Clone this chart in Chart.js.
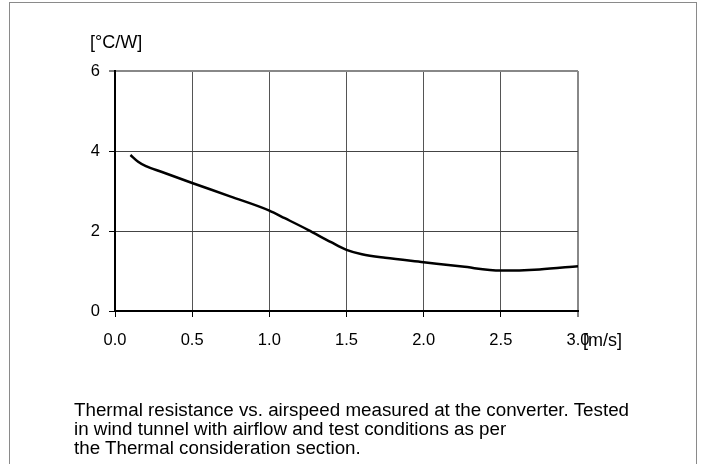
<!DOCTYPE html>
<html>
<head>
<meta charset="utf-8">
<script src="https://cdn.jsdelivr.net/npm/chart.js@4.4.1/dist/chart.umd.min.js"></script>
<style>
  html, body { margin: 0; padding: 0; background: #fff; }
  #wrap { position: relative; width: 706px; height: 464px; overflow: hidden; }
  #frame { position: absolute; left: 9px; top: 2px; width: 688px; height: 480px; border: 1px solid #8a8a8a; box-sizing: border-box; }
  canvas { position: absolute; left: 0; top: 0; }
  .cap { position: absolute; left: 74px; font-family: "Liberation Sans", Arial, sans-serif; font-size: 18.8px; line-height: 20px; color: #000; white-space: nowrap; }
</style>
</head>
<body>
<div id="wrap">
  <div id="frame"></div>
  <canvas id="c" width="706" height="464"></canvas>
  <div class="cap" style="top:400px">Thermal resistance vs. airspeed measured at the converter. Tested</div>
  <div class="cap" style="top:419px">in wind tunnel with airflow and test conditions as per</div>
  <div class="cap" style="top:438px">the Thermal consideration section.</div>
</div>
<script>
// Data
const airspeed = [0.1, 0.15, 0.2, 0.3, 0.5, 0.75, 1.0, 1.1, 1.25, 1.4, 1.5, 1.6, 1.75, 2.0, 2.25, 2.5, 2.75, 3.0];
const thermalResistance = [3.9, 3.73, 3.62, 3.48, 3.2, 2.86, 2.51, 2.32, 2.03, 1.72, 1.53, 1.42, 1.33, 1.22, 1.11, 1.01, 1.04, 1.12];
const xTicks = [0, 0.5, 1.0, 1.5, 2.0, 2.5, 3.0];
const yTicks = [0, 2, 4, 6];
const yUnit = '[°C/W]';
const xUnit = '[m/s]';

const FONT = { family: '"Liberation Sans", Arial, sans-serif', size: 16.5 };

const unitLabels = {
  id: 'unitLabels',
  afterDraw(chart) {
    const ctx = chart.ctx;
    ctx.save();
    ctx.fillStyle = '#000';
    ctx.font = '18px "Liberation Sans", Arial, sans-serif';
    ctx.textBaseline = 'alphabetic';
    ctx.textAlign = 'left';
    ctx.fillText(yUnit, 90, 48);
    ctx.fillText(xUnit, chart.scales.x.getPixelForValue(3.0) + 5, 346);
    ctx.restore();
  }
};

new Chart(document.getElementById('c'), {
  type: 'scatter',
  data: {
    datasets: [{
      data: airspeed.map((x, i) => ({ x, y: thermalResistance[i] })),
      showLine: true,
      borderColor: '#000',
      borderWidth: 2.5,
      pointRadius: 0,
      cubicInterpolationMode: 'monotone',
      fill: false
    }]
  },
  options: {
    responsive: false,
    animation: false,
    devicePixelRatio: 1,
    layout: { padding: { left: 60, right: 128, top: 71, bottom: 100 } },
    plugins: { legend: { display: false }, tooltip: { enabled: false } },
    scales: {
      x: {
        type: 'linear', min: 0, max: 3,
        afterBuildTicks: s => { s.ticks = xTicks.map(v => ({ value: v })); },
        afterFit: s => { s.height = 53; },
        ticks: { color: '#000', font: FONT, padding: 14, maxRotation: 0,
                 callback: v => v.toFixed(1) },
        grid: {
          color: ctx => (ctx.tick && ctx.tick.value === 3) ? '#888' : '#555',
          lineWidth: ctx => (ctx.tick && ctx.tick.value === 3) ? 2 : 1,
          tickLength: 6, tickColor: '#000', tickWidth: 1
        },
        border: { color: '#000', width: 2 }
      },
      y: {
        type: 'linear', min: 0, max: 6,
        afterBuildTicks: s => { s.ticks = yTicks.map(v => ({ value: v })); },
        afterFit: s => { s.width = 55; },
        ticks: { color: '#000', font: FONT, padding: 9 },
        grid: {
          color: ctx => (ctx.tick && ctx.tick.value === 6) ? '#888' : '#444',
          lineWidth: ctx => (ctx.tick && ctx.tick.value === 6) ? 2 : 1,
          tickLength: 6, tickColor: '#000', tickWidth: 1
        },
        border: { color: '#000', width: 2 }
      }
    }
  },
  plugins: [unitLabels]
});
</script>
</body>
</html>
